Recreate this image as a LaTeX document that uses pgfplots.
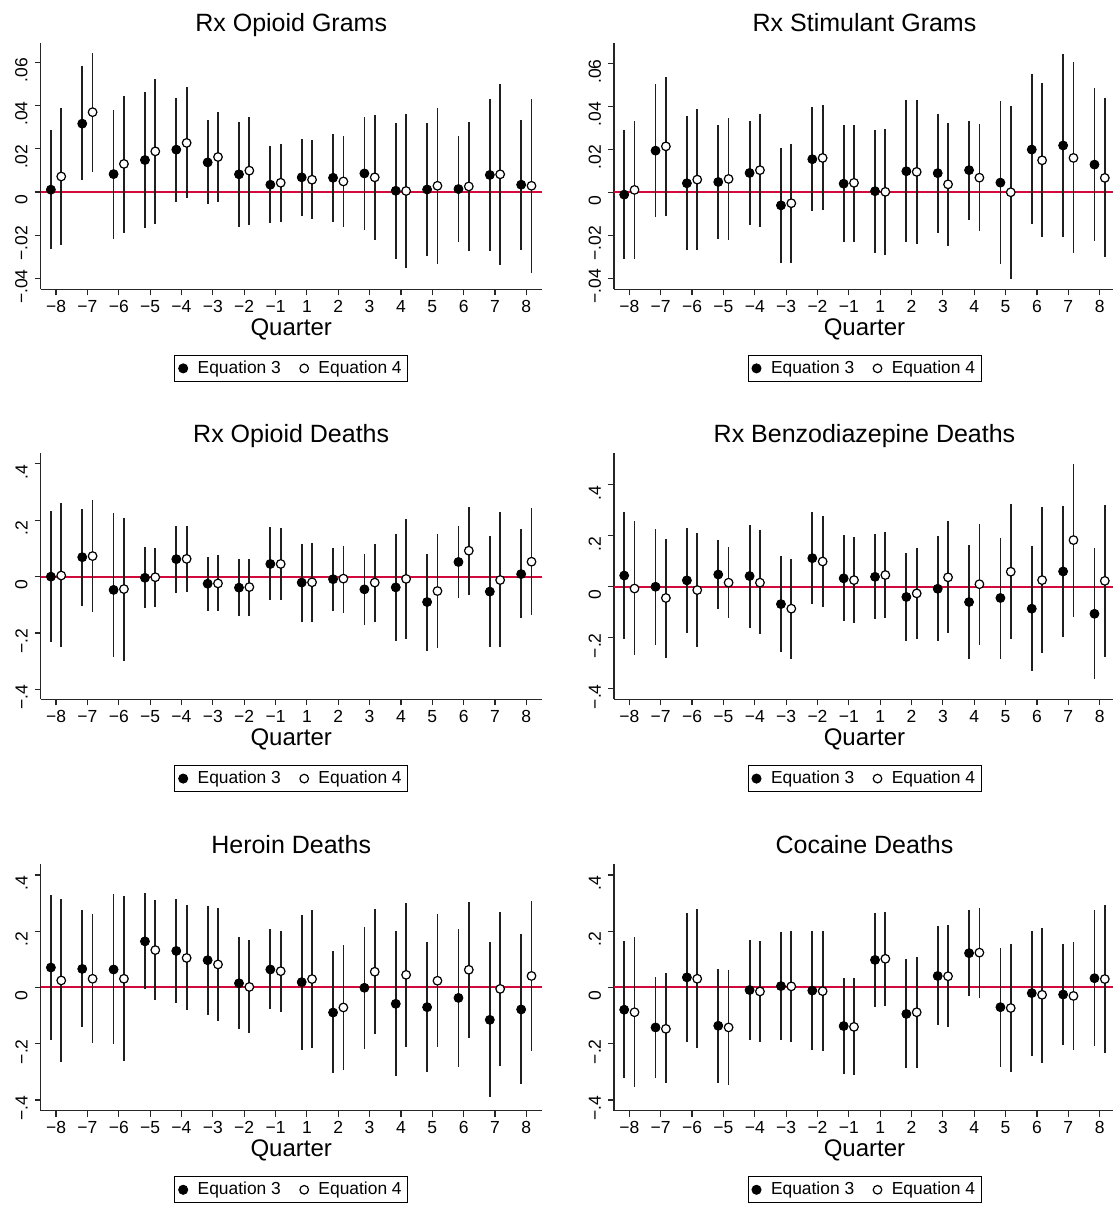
\documentclass[border=0pt]{standalone}
\usepackage{fontspec}
\setmainfont{Liberation Sans}
\usepackage{pgfplots}
\usepackage{pgfplotstable}
\pgfplotsset{compat=1.18}
\definecolor{refred}{RGB}{210,10,60}

\pgfplotstableread{
i b3 l3 h3 b4 l4 h4
0 0.0011 -0.0264 0.0285 0.0072 -0.0244 0.0389
1 0.0316 0.0054 0.0581 0.0369 0.0093 0.0643
2 0.0083 -0.0216 0.0381 0.0130 -0.0187 0.0443
3 0.0148 -0.0167 0.0461 0.0188 -0.0147 0.0523
4 0.0196 -0.0045 0.0435 0.0227 -0.0029 0.0484
5 0.0137 -0.0056 0.0335 0.0162 -0.0046 0.0369
6 0.0082 -0.0162 0.0325 0.0099 -0.0151 0.0347
7 0.0034 -0.0145 0.0214 0.0043 -0.0139 0.0224
8 0.0068 -0.0109 0.0245 0.0057 -0.0123 0.0239
9 0.0066 -0.0140 0.0270 0.0049 -0.0162 0.0258
10 0.0086 -0.0174 0.0345 0.0068 -0.0221 0.0355
11 0.0006 -0.0308 0.0319 0.0005 -0.0352 0.0359
12 0.0012 -0.0296 0.0319 0.0029 -0.0330 0.0387
13 0.0014 -0.0231 0.0259 0.0026 -0.0270 0.0322
14 0.0079 -0.0274 0.0429 0.0082 -0.0338 0.0500
15 0.0034 -0.0267 0.0333 0.0029 -0.0372 0.0432
}\opgr

\pgfplotstableread{
i b3 l3 h3 b4 l4 h4
0 -0.0011 -0.0312 0.0292 0.0011 -0.0312 0.0333
1 0.0194 -0.0115 0.0505 0.0214 -0.0112 0.0539
2 0.0042 -0.0270 0.0354 0.0059 -0.0270 0.0387
3 0.0048 -0.0219 0.0314 0.0062 -0.0221 0.0345
4 0.0090 -0.0154 0.0333 0.0103 -0.0162 0.0364
5 -0.0061 -0.0328 0.0207 -0.0051 -0.0328 0.0225
6 0.0154 -0.0087 0.0398 0.0160 -0.0081 0.0406
7 0.0040 -0.0232 0.0313 0.0044 -0.0230 0.0315
8 0.0005 -0.0283 0.0292 0.0002 -0.0294 0.0297
9 0.0098 -0.0233 0.0429 0.0095 -0.0242 0.0432
10 0.0089 -0.0190 0.0367 0.0037 -0.0250 0.0325
11 0.0103 -0.0127 0.0331 0.0068 -0.0180 0.0319
12 0.0045 -0.0336 0.0424 0.0000 -0.0402 0.0404
13 0.0199 -0.0148 0.0549 0.0149 -0.0210 0.0507
14 0.0218 -0.0210 0.0646 0.0160 -0.0281 0.0605
15 0.0129 -0.0228 0.0488 0.0067 -0.0303 0.0437
}\stgr

\pgfplotstableread{
i b3 l3 h3 b4 l4 h4
0 0.000 -0.231 0.232 0.004 -0.251 0.260
1 0.069 -0.103 0.240 0.073 -0.127 0.271
2 -0.047 -0.286 0.225 -0.044 -0.298 0.209
3 -0.004 -0.111 0.105 -0.002 -0.107 0.103
4 0.062 -0.057 0.180 0.063 -0.056 0.180
5 -0.025 -0.121 0.070 -0.024 -0.123 0.075
6 -0.039 -0.138 0.063 -0.037 -0.138 0.063
7 0.045 -0.084 0.175 0.045 -0.084 0.174
8 -0.021 -0.159 0.115 -0.020 -0.161 0.121
9 -0.009 -0.123 0.103 -0.007 -0.128 0.110
10 -0.045 -0.170 0.080 -0.021 -0.159 0.115
11 -0.038 -0.227 0.150 -0.008 -0.222 0.204
12 -0.090 -0.262 0.082 -0.051 -0.253 0.151
13 0.052 -0.075 0.180 0.092 -0.064 0.247
14 -0.053 -0.249 0.143 -0.012 -0.251 0.230
15 0.009 -0.148 0.168 0.053 -0.136 0.243
}\opde

\pgfplotstableread{
i b3 l3 h3 b4 l4 h4
0 0.044 -0.204 0.292 -0.007 -0.269 0.257
1 0.000 -0.230 0.227 -0.044 -0.278 0.189
2 0.025 -0.180 0.230 -0.013 -0.235 0.209
3 0.048 -0.089 0.185 0.016 -0.123 0.154
4 0.042 -0.161 0.244 0.016 -0.187 0.221
5 -0.068 -0.254 0.119 -0.086 -0.282 0.108
6 0.112 -0.068 0.294 0.099 -0.081 0.279
7 0.033 -0.136 0.201 0.026 -0.144 0.196
8 0.039 -0.128 0.206 0.046 -0.123 0.215
9 -0.040 -0.214 0.133 -0.026 -0.205 0.150
10 -0.008 -0.214 0.200 0.037 -0.183 0.256
11 -0.060 -0.282 0.162 0.010 -0.227 0.247
12 -0.044 -0.282 0.193 0.059 -0.206 0.324
13 -0.086 -0.330 0.158 0.026 -0.261 0.311
14 0.060 -0.196 0.317 0.183 -0.117 0.483
15 -0.106 -0.360 0.150 0.023 -0.274 0.321
}\bzde

\pgfplotstableread{
i b3 l3 h3 b4 l4 h4
0 0.071 -0.187 0.329 0.025 -0.265 0.316
1 0.066 -0.142 0.277 0.031 -0.199 0.263
2 0.064 -0.200 0.331 0.031 -0.262 0.325
3 0.164 -0.006 0.336 0.133 -0.043 0.310
4 0.130 -0.054 0.314 0.105 -0.080 0.293
5 0.097 -0.096 0.289 0.082 -0.120 0.282
6 0.015 -0.149 0.180 0.002 -0.163 0.170
7 0.064 -0.077 0.207 0.058 -0.086 0.201
8 0.019 -0.222 0.259 0.030 -0.215 0.275
9 -0.089 -0.305 0.128 -0.071 -0.293 0.150
10 -0.001 -0.218 0.215 0.056 -0.166 0.280
11 -0.058 -0.315 0.200 0.045 -0.212 0.301
12 -0.070 -0.301 0.160 0.024 -0.213 0.260
13 -0.037 -0.282 0.208 0.063 -0.178 0.303
14 -0.115 -0.388 0.161 -0.005 -0.278 0.270
15 -0.078 -0.344 0.189 0.041 -0.224 0.306
}\hede

\pgfplotstableread{
i b3 l3 h3 b4 l4 h4
0 -0.079 -0.321 0.164 -0.088 -0.353 0.178
1 -0.142 -0.320 0.036 -0.147 -0.341 0.050
2 0.036 -0.193 0.265 0.031 -0.215 0.279
3 -0.136 -0.339 0.064 -0.142 -0.347 0.062
4 -0.009 -0.187 0.168 -0.014 -0.193 0.167
5 0.005 -0.187 0.196 0.004 -0.193 0.200
6 -0.011 -0.223 0.200 -0.013 -0.225 0.200
7 -0.137 -0.309 0.033 -0.140 -0.312 0.032
8 0.098 -0.068 0.265 0.102 -0.065 0.270
9 -0.094 -0.287 0.100 -0.088 -0.286 0.109
10 0.041 -0.135 0.219 0.040 -0.141 0.223
11 0.122 -0.030 0.275 0.124 -0.037 0.283
12 -0.070 -0.282 0.141 -0.073 -0.302 0.154
13 -0.020 -0.243 0.201 -0.026 -0.267 0.213
14 -0.025 -0.205 0.156 -0.030 -0.222 0.161
15 0.033 -0.207 0.275 0.030 -0.233 0.294
}\code

\pgfplotsset{
  panel/.style={
    scale only axis, width=250.5pt, height=123.2pt,
    xmin=-0.49, xmax=15.49,
    scaled y ticks=false,
    axis lines*=left,
    axis line style={black!85, line width=0.6pt},
    tick style={black!85, line width=0.6pt},
    major tick length=3pt, tick align=outside,
    xtick={0,...,15},
    xticklabels={−8,−7,−6,−5,−4,−3,−2,−1,1,2,3,4,5,6,7,8},
    ticklabel style={font=\fontsize{8.75}{10}\selectfont},
    xticklabel style={yshift=1pt},
    yticklabel style={rotate=90, anchor=south, xshift=-4pt},
    xlabel={Quarter},
    xlabel style={at={(0.5,0)}, anchor=base, yshift=-23.1pt, font=\fontsize{12}{14}\selectfont},
    every axis title shift=0pt,
    title style={at={(0.5,1)}, anchor=base, yshift=5.5pt, font=\fontsize{12.5}{15}\selectfont},
    legend style={at={(0.5,-0.267)}, anchor=north, legend columns=2,
      draw=black, line width=0.5pt, inner xsep=2pt, inner ysep=1.5pt,
      font=\fontsize{8.7}{10}\selectfont,
      nodes={inner sep=1pt},
      /tikz/every odd column/.append style={column sep=4pt},
      /tikz/every even column/.append style={column sep=8.5pt}},
    legend image code/.code={\draw[##1] plot coordinates {(0pt,0pt)};},
    clip=false,
  }
}

\newcommand\panel[7]{%
\begin{axis}[panel, at={#1}, anchor=south west, ymin=#3, ymax=#4,
  ytick={#5}, yticklabels={#6}, title={#7}]
\addplot[forget plot, refred, line width=1pt] coordinates {(-0.49,0) (15.49,0)};
\addplot[forget plot, only marks, mark=none,
  error bars/.cd, y dir=both, y explicit, error mark=none,
  error bar style={line width=0.9pt, black!88}]
  table[x expr=\thisrow{i}-0.165, y=b3,
        y error plus expr=\thisrow{h3}-\thisrow{b3},
        y error minus expr=\thisrow{b3}-\thisrow{l3}] {#2};
\addplot[forget plot, only marks, mark=none,
  error bars/.cd, y dir=both, y explicit, error mark=none,
  error bar style={line width=0.9pt, black!88}]
  table[x expr=\thisrow{i}+0.165, y=b4,
        y error plus expr=\thisrow{h4}-\thisrow{b4},
        y error minus expr=\thisrow{b4}-\thisrow{l4}] {#2};
\addplot[only marks, mark=*, mark size=2.25pt,
  mark options={fill=black, draw=black}]
  table[x expr=\thisrow{i}-0.165, y=b3] {#2};
\addlegendentry{Equation 3}
\addplot[only marks, mark=*, mark size=2.15pt,
  mark options={fill=white, draw=black, line width=0.6pt}]
  table[x expr=\thisrow{i}+0.165, y=b4] {#2};
\addlegendentry{Equation 4}
\end{axis}}

\begin{document}
\begin{tikzpicture}
\useasboundingbox (0,0) rectangle (556.5pt,602.5pt);
\panel{(20.35pt,457.85pt)}{\opgr}{-0.0449}{0.0689}{-0.04,-0.02,0,0.02,0.04,0.06}{−.04,−.02,0,.02,.04,.06}{Rx Opioid Grams}
\panel{(307pt,457.85pt)}{\stgr}{-0.0452}{0.0696}{-0.04,-0.02,0,0.02,0.04,0.06}{−.04,−.02,0,.02,.04,.06}{Rx Stimulant Grams}
\panel{(20.35pt,252.75pt)}{\opde}{-0.4355}{0.438}{-0.4,-0.2,0,0.2,0.4}{−.4,−.2,0,.2,.4}{Rx Opioid Deaths}
\panel{(307pt,252.75pt)}{\bzde}{-0.442}{0.524}{-0.4,-0.2,0,0.2,0.4}{−.4,−.2,0,.2,.4}{Rx Benzodiazepine Deaths}
\panel{(20.35pt,47.15pt)}{\hede}{-0.438}{0.438}{-0.4,-0.2,0,0.2,0.4}{−.4,−.2,0,.2,.4}{Heroin Deaths}
\panel{(307pt,47.15pt)}{\code}{-0.438}{0.438}{-0.4,-0.2,0,0.2,0.4}{−.4,−.2,0,.2,.4}{Cocaine Deaths}
\end{tikzpicture}
\end{document}
